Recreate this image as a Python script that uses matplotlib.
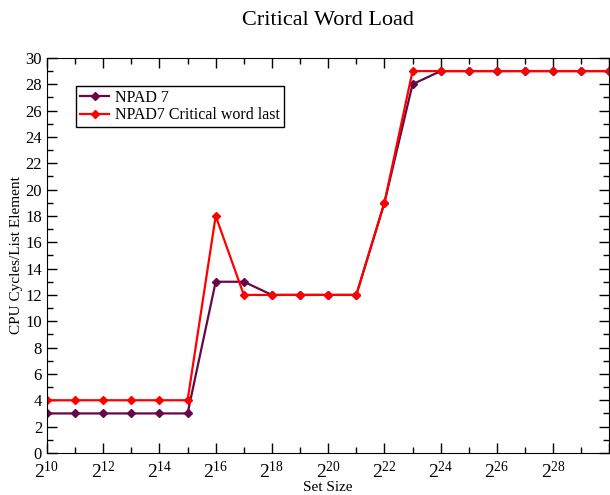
import numpy as np
import matplotlib
matplotlib.use("Agg")
import matplotlib.pyplot as plt
from matplotlib.ticker import MultipleLocator, FuncFormatter

plt.rcParams['font.family'] = ['Liberation Serif', 'DejaVu Serif']
plt.rcParams['mathtext.fontset'] = 'custom'
plt.rcParams['mathtext.rm'] = 'Liberation Serif'

# set size exponents (2^n)
exponents = list(range(10, 31))
npad7 = [3, 3, 3, 3, 3, 3, 13, 13, 12, 12, 12, 12, 19, 28, 29, 29, 29, 29, 29, 29, 29]
npad7_cwl = [4, 4, 4, 4, 4, 4, 18, 12, 12, 12, 12, 12, 19, 29, 29, 29, 29, 29, 29, 29, 29]

fig = plt.figure(figsize=(6.1, 4.95), dpi=100)
ax = fig.add_axes([0.077, 0.085, 0.922, 0.798])

ax.plot(exponents, npad7, '-D', color='#670748', lw=1.6, ms=4.5, label='NPAD 7')
ax.plot(exponents, npad7_cwl, '-D', color='#ff0000', lw=1.6, ms=4.5,
        label='NPAD7 Critical word last')

ax.set_xlim(10, 30)
ax.set_ylim(0, 30)
ax.xaxis.set_major_locator(MultipleLocator(2))
ax.xaxis.set_minor_locator(MultipleLocator(1))
ax.yaxis.set_major_locator(MultipleLocator(2))
ax.yaxis.set_minor_locator(MultipleLocator(1))
ax.xaxis.set_major_formatter(FuncFormatter(
    lambda v, p: '' if v >= 30 else r'$\mathregular{2^{%d}}$' % v))
ax.tick_params(which='both', direction='in', top=True, right=True, labelsize=12)
ax.tick_params(which='major', length=7, width=1)
ax.tick_params(which='minor', length=4, width=1)
ax.tick_params(axis='x', labelsize=14, pad=6)

ax.set_title('Critical Word Load', fontsize=16, pad=24)
ax.set_xlabel('Set Size', fontsize=11, labelpad=-1)
ax.set_ylabel('CPU Cycles/List Element', fontsize=11, labelpad=2)

leg = ax.legend(loc='upper left', bbox_to_anchor=(0.052, 0.93), fancybox=False,
                edgecolor='black', fontsize=11.5, handlelength=1.8,
                handletextpad=0.4, borderpad=0.25, labelspacing=0.1,
                borderaxespad=0, framealpha=1)
leg.get_frame().set_linewidth(1)

fig.savefig('out.png', dpi=100)
